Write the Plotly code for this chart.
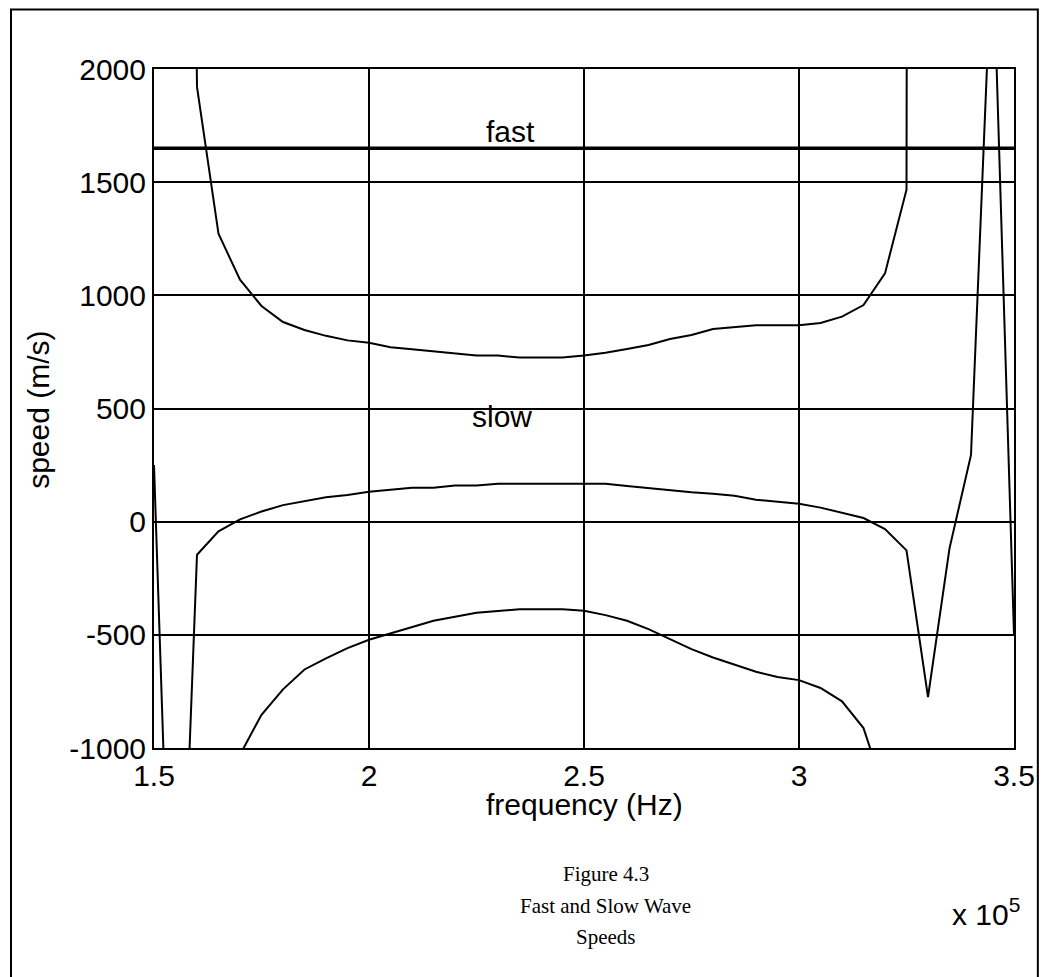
import plotly.graph_objects as go

# frequency samples (Hz)
freq_hz = [150000 + 5000 * i for i in range(41)]

# curve 1 (upper "fast" branch of computed speeds), m/s
speed_a = [20000, 10000, 1921, 1272, 1069, 953, 882, 847, 821, 801,
           790, 771, 762, 753, 744, 734, 734, 725, 725, 725,
           734, 746, 763, 781, 807, 825, 851, 860, 868, 868,
           868, 878, 906, 957, 1097, 1467, 60000, 40000, 30000, 20000, 15000]

# curve 2 (middle "slow" branch), m/s
speed_b = [250, -2620, -146, -43, 10, 45, 73, 92, 108, 118,
           132, 141, 150, 150, 160, 160, 167, 167, 167, 167,
           167, 167, 158, 148, 138, 130, 123, 114, 97, 88,
           79, 62, 39, 16, -33, -127, -775, -118, 295, 2600, -500]

# curve 3 (lower negative branch), m/s
speed_c = [-5000, -3500, -2500, -1600, -1030, -853, -741, -653, -604, -559,
           -522, -493, -465, -438, -420, -402, -395, -387, -387, -387,
           -394, -413, -438, -475, -519, -563, -600, -632, -663, -686,
           -700, -735, -794, -912, -1200, -2000, -3000, -4000, -5000, -6000, -7000]

# reference "fast" speed line
fast_speed = 1650
fast_x = [1.5, 3.5]

x_ticks = [1.5, 2, 2.5, 3, 3.5]
x_tick_text = ["1.5", "2", "2.5", "3", "3.5"]
y_ticks = [-1000, -500, 0, 500, 1000, 1500, 2000]
y_tick_text = ["-1000", "-500", "0", "500", "1000", "1500", "2000"]

x = [f / 1e5 for f in freq_hz]

fig = go.Figure()
for ys in (speed_a, speed_b, speed_c):
    fig.add_trace(go.Scatter(x=x, y=ys, mode="lines",
                             line=dict(color="black", width=2),
                             hoverinfo="skip", showlegend=False))
fig.add_trace(go.Scatter(x=fast_x, y=[fast_speed, fast_speed], mode="lines",
                         line=dict(color="black", width=3.5),
                         hoverinfo="skip", showlegend=False))

# page has an 8px body margin; work in page pixels and offset
OFF = 8
W, H = 1047 - OFF, 977 - OFF
L, R, T, B = 154 - OFF, 1020 - OFF, 69 - OFF, 748 - OFF
pw, ph = R - L, B - T


def px(xp):
    return (xp - OFF - L) / pw


def py(yp):
    return (B - (yp - OFF)) / ph


tick_font = dict(family="Liberation Sans, Arial, sans-serif", size=30, color="black")
serif_font = dict(family="Liberation Serif, Times New Roman, serif", size=21, color="black")

fig.update_layout(
    width=W, height=H,
    margin=dict(l=L, r=W - R, t=T, b=H - B),
    paper_bgcolor="white", plot_bgcolor="white",
    showlegend=False,
    xaxis=dict(range=[1.5, 3.5], tickvals=x_ticks, ticktext=x_tick_text,
               showgrid=True, gridcolor="black", gridwidth=1.5,
               showline=True, linecolor="black", linewidth=2, mirror=True,
               zeroline=False, ticks="", tickfont=tick_font),
    yaxis=dict(range=[-1000, 2000], tickvals=y_ticks, ticktext=y_tick_text,
               showgrid=True, gridcolor="black", gridwidth=1.5,
               showline=True, linecolor="black", linewidth=2, mirror=True,
               zeroline=False, ticks="", tickfont=tick_font),
)

annotations = [
    dict(x=2.33, y=1725, xref="x", yref="y", text="fast", showarrow=False,
         font=tick_font, xanchor="center", yanchor="middle"),
    dict(x=2.31, y=465, xref="x", yref="y", text="slow", showarrow=False,
         font=tick_font, xanchor="center", yanchor="middle"),
    dict(x=px(588), y=py(804), xref="paper", yref="paper", text="frequency (Hz)",
         showarrow=False, font=tick_font, xanchor="center", yanchor="middle"),
    dict(x=px(37), y=py(410), xref="paper", yref="paper", text="speed (m/s)",
         showarrow=False, font=tick_font, textangle=-90,
         xanchor="center", yanchor="middle"),
    dict(x=px(992), y=py(912), xref="paper", yref="paper",
         text="x 10<sup>5</sup>", showarrow=False, font=tick_font,
         xanchor="center", yanchor="middle"),
    dict(x=px(609), y=py(874), xref="paper", yref="paper", text="Figure 4.3",
         showarrow=False, font=serif_font, xanchor="center", yanchor="middle"),
    dict(x=px(609), y=py(906), xref="paper", yref="paper", text="Fast and Slow Wave",
         showarrow=False, font=serif_font, xanchor="center", yanchor="middle"),
    dict(x=px(609), y=py(937), xref="paper", yref="paper", text="Speeds",
         showarrow=False, font=serif_font, xanchor="center", yanchor="middle"),
]
fig.update_layout(annotations=annotations)

fig.add_shape(type="rect", xref="paper", yref="paper",
              x0=px(10), x1=px(1044), y0=py(1000), y1=py(9.5),
              line=dict(color="black", width=2), fillcolor="rgba(0,0,0,0)",
              layer="below")

fig.write_html("out.html")
